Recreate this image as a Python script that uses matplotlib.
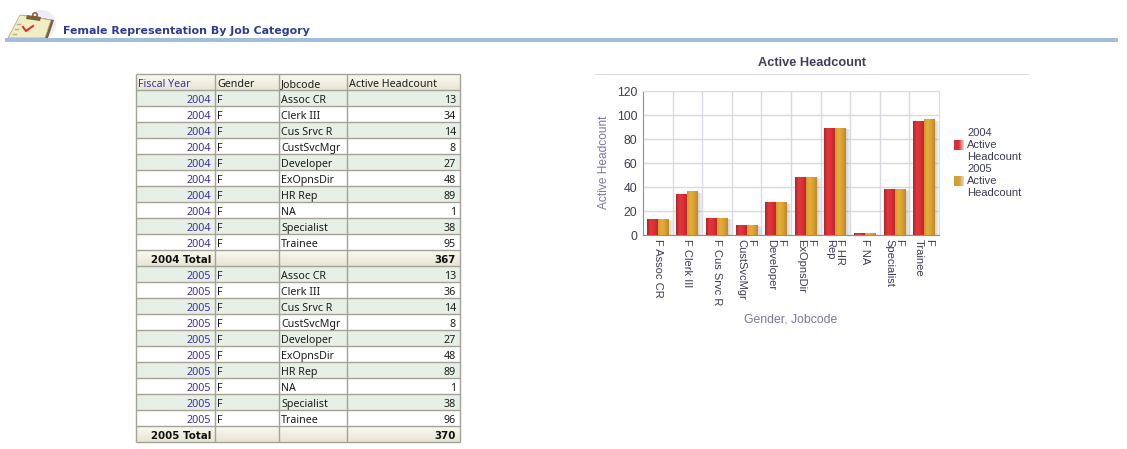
import matplotlib
matplotlib.use('Agg')
import matplotlib.pyplot as plt
from matplotlib.colors import LinearSegmentedColormap
from matplotlib.patches import Rectangle, Polygon, Circle
import numpy as np

W, H = 1127, 449

# data
years = ['2004', '2005']
gender = 'F'
jobcodes = ['Assoc CR', 'Clerk III', 'Cus Srvc R', 'CustSvcMgr', 'Developer',
            'ExOpnsDir', 'HR Rep', 'NA', 'Specialist', 'Trainee']
headcount_2004 = [13, 34, 14, 8, 27, 48, 89, 1, 38, 95]
headcount_2005 = [13, 36, 14, 8, 27, 48, 89, 1, 38, 96]
totals = [367, 370]
table_header = ['Fiscal Year', 'Gender', 'Jobcode', 'Active Headcount']
chart_labels = ['F Assoc CR', 'F Clerk III', 'F Cus Srvc R', 'F\nCustSvcMgr', 'F\nDeveloper',
                'F\nExOpnsDir', 'F HR\nRep', 'F NA', 'F\nSpecialist', 'F\nTrainee']
y_ticks = [0, 20, 40, 60, 80, 100, 120]

table_font = 'Noto Sans'
chart_font = 'Liberation Sans'
link_col = '#3a2fa8'
text_col = '#1c1c1c'
border = '#a3a296'
chart_text = '#3c3c56'
axis_title = '#78789c'

red_cmap = LinearSegmentedColormap.from_list('r', ['#ad282c', '#e8353a', '#d9303a', '#b92a2c'])
gold_cmap = LinearSegmentedColormap.from_list('g', ['#d39a2e', '#e6ae38', '#d8a032', '#bd8a28'])
grad = np.linspace(0, 1, 32).reshape(1, -1)

fig = plt.figure(figsize=(W / 100, H / 100), dpi=100, facecolor='white')

# page layer in pixel coordinates
bg = fig.add_axes([0, 0, 1, 1])
bg.set_xlim(0, W)
bg.set_ylim(H, 0)
bg.axis('off')

# header icon
bg.add_patch(Circle((42, 24), 14, fc='#eeecf9', ec='none', clip_on=True))
bg.add_patch(Polygon([(10, 38), (22, 15), (54, 20), (48, 38)], fc='#7a5f36', ec='none'))
bg.add_patch(Polygon([(8, 38), (20, 15), (51, 20), (45, 38)], fc='#f1eec6', ec='#b7ad7e', lw=0.6))
bg.add_patch(Polygon([(27, 15), (41, 17), (40, 21), (26, 19)], fc='#7a6032', ec='none'))
bg.add_patch(Circle((35, 15), 2.2, fc='none', ec='#7a6032', lw=1.1))
bg.plot([23, 26, 33], [27, 31, 26], color='#d8322e', lw=1.5)
for ty, tx in [(24, 17), (29, 15), (34, 13)]:
    bg.plot([tx, tx + 3], [ty, ty], color='#b9b08a', lw=1)
bg.add_patch(Rectangle((5, 38), 1113, 4, fc='#a3bddb', ec='none', zorder=4))

bg.text(63, 30.5, 'Female Representation By Job Category', family='DejaVu Sans',
        weight='bold', fontsize=7.9, color='#2d3a96', va='center')

# table
col_x = [136, 215, 279, 347, 460]
top = 74
row_h = 16


def shaded_row(y):
    bg.imshow(np.linspace(0, 1, 16).reshape(-1, 1), extent=(col_x[0], col_x[-1], y + row_h, y),
              cmap=LinearSegmentedColormap.from_list('h', ['#fbf9f0', '#e9e5d5']),
              aspect='auto', zorder=1)


def cell_text(col, y, s, right=False, color=text_col, bold=False):
    x = col_x[col + 1] - 4 if right else col_x[col] + 2
    bg.text(x, y + row_h / 2 + 1, s, family='DejaVu Sans' if bold else table_font,
            fontsize=7.4 if bold else 7.7, color='#111111' if bold else color,
            weight='bold' if bold else 'normal',
            ha='right' if right else 'left', va='center_baseline', zorder=3)


shaded_row(top)
for i, s in enumerate(table_header):
    cell_text(i, top, s, color=link_col if i == 0 else text_col)

y = top + row_h
for year, values, total in zip(years, [headcount_2004, headcount_2005], totals):
    for i, (job, val) in enumerate(zip(jobcodes, values)):
        if i % 2 == 0:
            bg.add_patch(Rectangle((col_x[0], y), col_x[-1] - col_x[0], row_h, fc='#e6f0e6', ec='none', zorder=1))
        cell_text(0, y, year, right=True, color=link_col)
        cell_text(1, y, gender)
        cell_text(2, y, job)
        cell_text(3, y, str(val), right=True)
        y += row_h
    shaded_row(y)
    cell_text(0, y, year + ' Total', right=True, bold=True)
    cell_text(3, y, str(total), right=True, bold=True)
    y += row_h

n_rows = (y - top) // row_h
for r in range(n_rows + 1):
    bg.plot([col_x[0], col_x[-1]], [top + r * row_h] * 2, color=border, lw=1, zorder=2, solid_capstyle='butt')
for cx in col_x:
    bg.plot([cx, cx], [top, y], color=border, lw=1, zorder=2, solid_capstyle='butt')

# chart furniture
bg.text(812, 63.5, 'Active Headcount', family=chart_font, weight='bold', fontsize=9.2,
        color='#40405a', ha='center', va='center')
bg.add_patch(Rectangle((595, 73.5), 434, 1.5, fc='#d9d9e5', ec='none'))
bg.text(604, 162, 'Active Headcount', family=chart_font, fontsize=8.6, color=axis_title,
        rotation=90, ha='center', va='center')
bg.text(791, 319, 'Gender, Jobcode', family=chart_font, fontsize=8.8, color=axis_title,
        ha='center', va='center')

# legend
for ly, s, cm in [(145, '2004\nActive\nHeadcount', red_cmap), (181, '2005\nActive\nHeadcount', gold_cmap)]:
    base = '#d6303a' if cm is red_cmap else '#d39f32'
    leg = LinearSegmentedColormap.from_list('l', [base, base, '#e6d8c8'])
    bg.imshow(grad, extent=(954, 964, ly + 5, ly - 5), cmap=leg, aspect='auto', zorder=1)
    bg.text(967, ly, s, family=chart_font, fontsize=8, color=chart_text, va='center', linespacing=1.24)
bg.set_xlim(0, W)
bg.set_ylim(H, 0)

# bar chart
ax = fig.add_axes([643 / W, 1 - 235 / H, 296 / W, 144 / H])
ax.set_facecolor('none')
x = np.arange(len(jobcodes))
bar_w = 0.37

for offset, values, cm in [(-bar_w / 2, headcount_2004, red_cmap), (bar_w / 2, headcount_2005, gold_cmap)]:
    for xi, val in zip(x, values):
        left = xi + offset - bar_w / 2
        for k in range(1, 5):
            ax.bar(left + bar_w / 2 + k * 0.035, val - k * 0.25, bar_w, color='#7a7a90', alpha=0.09,
                   linewidth=0, zorder=2)
        ax.imshow(grad, extent=(left, left + bar_w, 0, val), cmap=cm, aspect='auto', zorder=3)

ax.set_xlim(-0.5, len(jobcodes) - 0.5)
ax.set_ylim(0, 120)
ax.set_aspect('auto')
ax.set_yticks(y_ticks)
ax.set_xticks(x)
ax.set_xticklabels(chart_labels, rotation=270, family=chart_font, fontsize=8, color=chart_text,
                   ha='center', va='top', ma='left', linespacing=1.0)
ax.tick_params(axis='y', length=0, pad=4, labelsize=8.8, labelcolor=chart_text)
ax.tick_params(axis='x', length=0, pad=3)
for lab in ax.get_yticklabels():
    lab.set_family(chart_font)
ax.set_axisbelow(True)
ax.grid(axis='y', color='#d9d9e3', lw=1)
for v in x[:-1] + 0.5:
    ax.axvline(v, color='#d9d9e3', lw=1, zorder=1)
for side in ['top', 'right']:
    ax.spines[side].set_color('#dcdce6')
for side in ['left', 'bottom']:
    ax.spines[side].set_color('#8d8dab')

fig.savefig('out.png', dpi=100)
